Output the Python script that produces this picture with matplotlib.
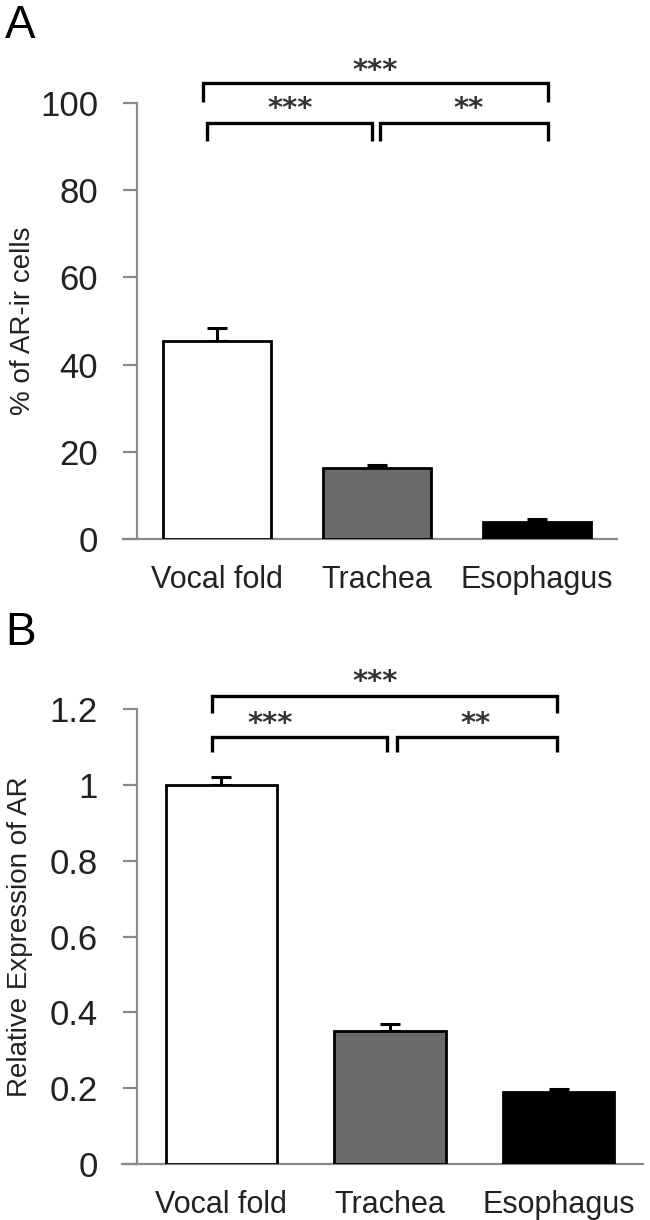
import matplotlib
matplotlib.use("Agg")
import matplotlib.pyplot as plt

plt.rcParams['font.family'] = ['Liberation Sans', 'DejaVu Sans']

categories = ["Vocal fold", "Trachea", "Esophagus"]
colors = ["white", "#6b6b6b", "black"]

a_values = [45.5, 16.3, 3.9]
a_errors = [2.8, 0.7, 0.7]
a_yticks = [0, 20, 40, 60, 80, 100]
a_ylabel = "% of AR-ir cells"

b_values = [1.0, 0.35, 0.19]
b_errors = [0.02, 0.02, 0.008]
b_yticks = [0, 0.2, 0.4, 0.6, 0.8, 1, 1.2]
b_yticklabels = ["0", "0.2", "0.4", "0.6", "0.8", "1", "1.2"]
b_ylabel = "Relative Expression of AR"

W, H = 650, 1220
fig = plt.figure(figsize=(W / 100, H / 100), dpi=100)


def px_axes(left, right, top, bottom):
    return fig.add_axes([left / W, 1 - bottom / H, (right - left) / W, (bottom - top) / H])


axA = px_axes(137, 617, 103, 539)
axB = px_axes(137, 643, 709, 1164)

spine_col = "#8a8a8a"
text_col = "#222222"


def style(ax, values, errors, yticks, ylim, ylabel, yticklabels=None, width=0.67):
    x = list(range(len(categories)))
    ax.bar(x, values, width=width, color=colors, edgecolor="black", linewidth=2.0, zorder=3)
    ax.errorbar(x, values, yerr=[[0] * len(errors), errors], fmt="none", ecolor="black",
                elinewidth=2.2, capsize=7, capthick=2.2, zorder=2)
    ax.set_xlim(-0.5, 2.5)
    ax.set_ylim(*ylim)
    ax.set_yticks(yticks)
    if yticklabels is not None:
        ax.set_yticklabels(yticklabels)
    ax.set_xticks(x)
    ax.set_xticklabels(categories)
    for s in ["top", "right"]:
        ax.spines[s].set_visible(False)
    for s in ["left", "bottom"]:
        ax.spines[s].set_color(spine_col)
        ax.spines[s].set_linewidth(1.6)
    ax.tick_params(axis="y", direction="out", length=10, width=1.6, color=spine_col,
                   labelsize=25, labelcolor=text_col, pad=18)
    ax.tick_params(axis="x", length=0, labelsize=22, labelcolor=text_col, pad=19)
    ax.set_ylabel(ylabel, fontsize=20, color=text_col)


style(axA, a_values, a_errors, a_yticks, (0, 100), a_ylabel)
style(axB, b_values, b_errors, b_yticks, (0, 1.2), b_ylabel, b_yticklabels, width=0.66)

axA.yaxis.set_label_coords((36 - 137) / 480, 0.5)
axB.yaxis.set_label_coords((33 - 137) / 506, 0.5)

# extend baseline to the left like the reference
for ax in (axA, axB):
    ax.spines["bottom"].set_bounds(-0.5 - 14 / 160, 2.5)


def bracket(ax, x0, x1, ytop, ybot, lw=2.4):
    ax.plot([x0, x0, x1, x1], [ybot, ytop, ytop, ybot], color="black", lw=lw,
            clip_on=False, solid_joinstyle="miter", solid_capstyle="butt", zorder=5)


def stars(ax, x, y, s):
    ax.text(x, y, s, ha="center", va="center", fontsize=21, fontweight="bold",
            color="#333333", family="DejaVu Sans", clip_on=False)


# Panel A brackets
bracket(axA, -0.09, 2.07, 104.6, 100.2)
bracket(axA, -0.06, 0.97, 95.4, 91.3)
bracket(axA, 1.02, 2.07, 95.4, 91.3)
stars(axA, 0.99, 107.4, "***")
stars(axA, 0.46, 98.6, "***")
stars(axA, 1.57, 98.6, "**")

# Panel B brackets
bracket(axB, -0.055, 1.99, 1.235, 1.19)
bracket(axB, -0.055, 0.98, 1.127, 1.087)
bracket(axB, 1.04, 1.99, 1.127, 1.087)
stars(axB, 0.91, 1.272, "***")
stars(axB, 0.29, 1.16, "***")
stars(axB, 1.51, 1.16, "**")

fig.text(5 / W, 1 - 26 / H, "A", fontsize=33, va="center", ha="left", color="black")
fig.text(5 / W, 1 - 633 / H, "B", fontsize=33, va="center", ha="left", color="black")

fig.savefig("out.png", dpi=100, facecolor="white")
